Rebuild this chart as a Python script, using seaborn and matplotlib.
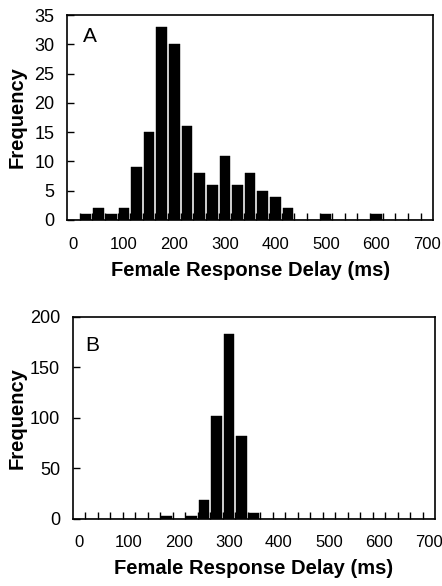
import numpy as np
import pandas as pd
import seaborn as sns
import matplotlib.pyplot as plt
from matplotlib.ticker import MultipleLocator, FixedLocator

sns.set_style("ticks")
plt.rcParams['font.family'] = ['Liberation Sans', 'DejaVu Sans']
plt.rcParams.update({"text.color": "black", "axes.labelcolor": "black",
                     "xtick.color": "black", "ytick.color": "black"})

# bin labels (ms), one category every 25 ms
delay_bins = [0, 25, 50, 75, 100, 125, 150, 175, 200, 225, 250, 275, 300, 325,
              350, 375, 400, 425, 450, 475, 500, 525, 550, 575, 600, 625, 650,
              675, 700]

# panel A counts
counts_a = [0, 1, 2, 1, 2, 9, 15, 33, 30, 16, 8, 6, 11, 6,
            8, 5, 4, 2, 0, 0, 1, 0, 0, 0, 1, 0, 0,
            0, 0]

# panel B counts
counts_b = [0, 0, 0, 0, 0, 0, 0, 3, 0, 3, 19, 102, 183, 82,
            6, 0, 0, 0, 0, 0, 0, 0, 0, 0, 0, 0, 0,
            0, 0]

x_ticks = [0, 100, 200, 300, 400, 500, 600, 700]


def draw_panel(ax, counts, letter, y_max, y_step, letter_pos, xpad, ylab_x, xlab_y):
    df = pd.DataFrame({"delay": delay_bins, "count": counts})
    sns.barplot(data=df, x="delay", y="count", native_scale=True, width=0.84,
                color="black", edgecolor="black", linewidth=0.3, saturation=1,
                ax=ax)
    ax.set_xlim(-12.5, 712.5)
    ax.set_ylim(0, y_max)

    # labels at bin centres, tick marks at bin edges
    ax.xaxis.set_major_locator(FixedLocator(x_ticks))
    ax.xaxis.set_minor_locator(FixedLocator(np.array(delay_bins[:-1]) + 12.5))
    ax.tick_params(axis="x", which="major", length=0, pad=xpad, labelsize=12)
    ax.tick_params(axis="x", which="minor", direction="in", length=5, width=1,
                   color="black")
    ax.yaxis.set_major_locator(MultipleLocator(y_step))
    ax.tick_params(axis="y", which="major", direction="in", length=5, width=1,
                   pad=9, labelsize=13, color="black")

    for s in ax.spines.values():
        s.set_visible(True)
        s.set_color("black")
        s.set_linewidth(1.2)

    ax.set_xlabel("Female Response Delay (ms)", fontsize=14.5, fontweight="bold")
    ax.set_ylabel("Frequency", fontsize=14.5, fontweight="bold")
    ax.xaxis.set_label_coords(0.5, xlab_y)
    ax.yaxis.set_label_coords(ylab_x, 0.5)

    ax.text(letter_pos[0], letter_pos[1], letter, transform=ax.transAxes,
            fontsize=15, ha="left", va="top")


fig = plt.figure(figsize=(4.42, 5.86), dpi=100)
ax_a = fig.add_axes([0.1516, 0.6246, 0.8284, 0.3498])
ax_b = fig.add_axes([0.1645, 0.1148, 0.8200, 0.3444])

draw_panel(ax_a, counts_a, "A", 35, 5, (0.044, 0.94), 12.5, -0.11, -0.2)
draw_panel(ax_b, counts_b, "B", 200, 50, (0.034, 0.905), 12, -0.127, -0.2)

fig.savefig("out.png", dpi=100)
